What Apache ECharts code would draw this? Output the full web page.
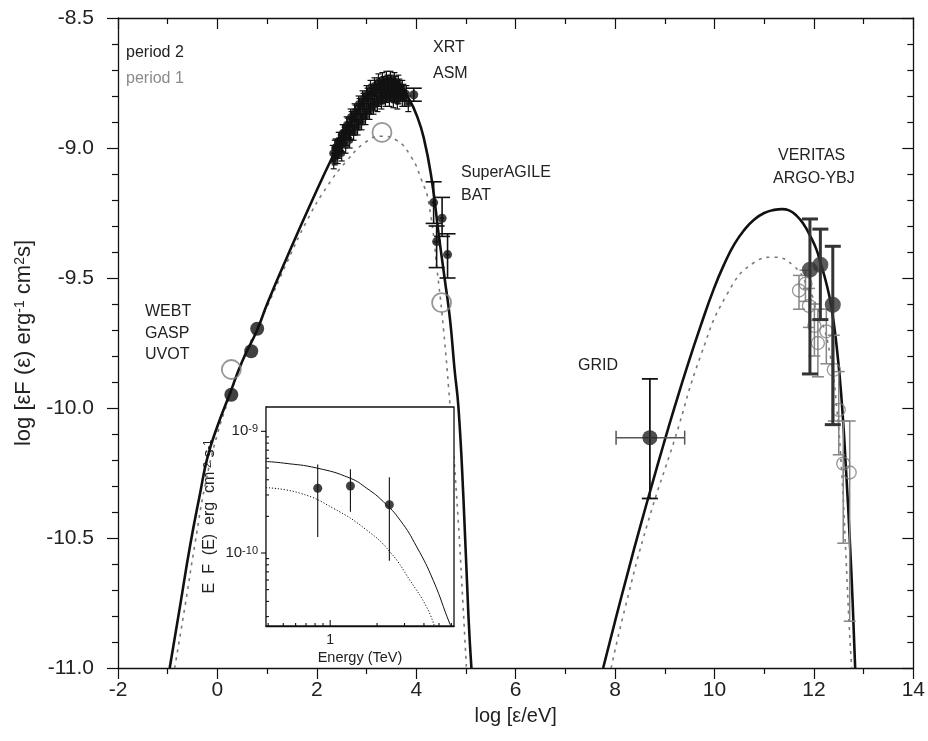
<!DOCTYPE html>
<html>
<head>
<meta charset="utf-8">
<script src="https://cdn.jsdelivr.net/npm/echarts@6/dist/echarts.min.js"></script>
<style>html,body{margin:0;padding:0;background:#fff;}#c{width:928px;height:741px;}</style>
</head>
<body>
<div id="c"></div>
<script>
// ---------- model curves (log eps [eV], log eF) ----------
const syncP2 = [[-0.96,-11.0],[-0.75,-10.76],[-0.55,-10.53],[-0.35,-10.33],[-0.2,-10.19],[0.0,-10.07],[0.24,-9.95],[0.5,-9.82],[0.8,-9.70],[1.0,-9.60],[1.4,-9.42],[1.91,-9.20],[2.35,-9.02],[2.7,-8.89],[3.0,-8.80],[3.25,-8.75],[3.45,-8.735],[3.65,-8.75],[3.85,-8.81],[4.0,-8.87],[4.15,-8.96],[4.31,-9.12],[4.45,-9.33],[4.57,-9.50],[4.68,-9.66],[4.77,-9.85],[4.85,-10.0],[4.95,-10.35],[5.05,-10.8],[5.11,-11.0]];
const syncP1 = [[-0.86,-11.0],[-0.65,-10.76],[-0.45,-10.52],[-0.25,-10.30],[0.0,-10.10],[0.24,-9.96],[0.5,-9.82],[0.8,-9.69],[1.0,-9.61],[1.4,-9.44],[1.8,-9.28],[2.2,-9.15],[2.6,-9.05],[3.0,-8.975],[3.3,-8.955],[3.6,-8.97],[3.9,-9.035],[4.1,-9.12],[4.25,-9.21],[4.45,-9.52],[4.55,-9.70],[4.65,-9.92],[4.75,-10.17],[4.85,-10.45],[4.93,-10.72],[5.01,-11.0]];
const icP2 = [[7.76,-11.0],[8.0,-10.82],[8.26,-10.63],[8.5,-10.46],[8.75,-10.29],[8.96,-10.15],[9.2,-9.995],[9.46,-9.835],[9.72,-9.685],[9.99,-9.54],[10.2,-9.445],[10.4,-9.37],[10.6,-9.315],[10.8,-9.275],[11.0,-9.25],[11.2,-9.238],[11.36,-9.235],[11.5,-9.24],[11.65,-9.26],[11.8,-9.295],[11.93,-9.34],[12.05,-9.39],[12.13,-9.44],[12.25,-9.52],[12.35,-9.61],[12.45,-9.75],[12.55,-9.95],[12.65,-10.25],[12.72,-10.5],[12.78,-10.75],[12.83,-11.0]];
const icP1 = [[7.92,-11.0],[8.2,-10.77],[8.66,-10.44],[9.2,-10.12],[9.72,-9.80],[10.26,-9.56],[10.8,-9.44],[11.2,-9.42],[11.6,-9.455],[11.86,-9.53],[12.13,-9.65],[12.33,-9.80],[12.46,-10.0],[12.56,-10.25],[12.64,-10.55],[12.70,-10.8],[12.76,-11.0]];

// ---------- inset model curves (log E/TeV, log EF) ----------
const insetP2 = [[-0.412,-9.248],[-0.299,-9.261],[-0.085,-9.302],[0.128,-9.385],[0.235,-9.468],[0.342,-9.579],[0.449,-9.730],[0.556,-9.950],[0.662,-10.226],[0.769,-10.584],[0.78,-10.6]];
const insetP1 = [[-0.412,-9.463],[-0.192,-9.509],[0.021,-9.633],[0.235,-9.812],[0.385,-9.992],[0.513,-10.226],[0.62,-10.446],[0.669,-10.6]];

// ---------- data: period 2 ----------
const opticalP2 = [[0.28,-9.949],[0.68,-9.782],[0.80,-9.695]];
// XRT: [x, y, yerr]
const xrtP2 = [
  [2.36,-9.00,0.03],[2.44,-8.97,0.03],[2.52,-8.94,0.03],[2.60,-8.91,0.03],[2.68,-8.88,0.03],[2.76,-8.86,0.03],[2.84,-8.83,0.03],[2.92,-8.81,0.03],[3.00,-8.79,0.03],[3.08,-8.77,0.03],[3.16,-8.76,0.03],[3.24,-8.745,0.03],[3.32,-8.74,0.03],[3.40,-8.735,0.03],[3.48,-8.735,0.03],[3.56,-8.74,0.03],[3.64,-8.75,0.03],[3.72,-8.77,0.03],[3.80,-8.79,0.03],
  [2.38,-8.995,0.03],[2.46,-8.97,0.03],[2.54,-8.94,0.03],[2.62,-8.915,0.03],[2.70,-8.89,0.03],[2.78,-8.865,0.03],[2.86,-8.84,0.03],[2.94,-8.82,0.03],[3.02,-8.80,0.03],[3.10,-8.785,0.03],[3.18,-8.77,0.03],[3.26,-8.76,0.03],[3.34,-8.755,0.03],[3.42,-8.75,0.03],[3.50,-8.75,0.03],[3.58,-8.755,0.03],[3.66,-8.765,0.03],[3.74,-8.785,0.03],
  [2.32,-9.02,0.03],[2.40,-9.00,0.03],[2.48,-8.98,0.03],[2.56,-8.95,0.03],[2.64,-8.93,0.03],[2.72,-8.90,0.03],[2.80,-8.88,0.03],[2.88,-8.86,0.03],[2.96,-8.84,0.03],[3.04,-8.82,0.03],[3.12,-8.80,0.03],[3.20,-8.79,0.03],[3.28,-8.78,0.03],[3.36,-8.775,0.03],[3.44,-8.77,0.03],[3.52,-8.775,0.03],[3.60,-8.78,0.03],[3.68,-8.79,0.03],[3.76,-8.81,0.03],[3.84,-8.83,0.03],
  [2.36,-9.035,0.03],[2.44,-9.01,0.03],[2.52,-8.985,0.03],[2.60,-8.96,0.03],[2.68,-8.94,0.03],[2.76,-8.92,0.03],[2.84,-8.90,0.03],[2.92,-8.88,0.03],[3.00,-8.86,0.03],[3.08,-8.84,0.03],[3.16,-8.825,0.03],[3.24,-8.81,0.03],[3.32,-8.80,0.03],[3.40,-8.795,0.03],[3.48,-8.79,0.03],[3.56,-8.795,0.03],[3.64,-8.80,0.03],[3.72,-8.81,0.03],
  [2.34,-9.05,0.03],[2.42,-9.03,0.03],[2.50,-9.02,0.03],[2.58,-8.99,0.03],[2.66,-8.97,0.03],[2.74,-8.94,0.03],[2.82,-8.92,0.03],[2.90,-8.90,0.03],[2.98,-8.88,0.03],[3.06,-8.86,0.03],[3.14,-8.84,0.03],[3.22,-8.83,0.03],[3.30,-8.82,0.03],[3.38,-8.81,0.03],[3.46,-8.81,0.03],[3.54,-8.815,0.03],[3.62,-8.82,0.03]
];
// [x, y, low, high]
const asmP2 = [[3.95,-8.795,-8.82,-8.77]];
const batP2 = [[4.35,-9.21,-9.29,-9.13],[4.52,-9.27,-9.34,-9.19],[4.41,-9.36,-9.46,-9.30],[4.63,-9.41,-9.50,-9.33]];
// GRID: [x, y, low, high, xlow, xhigh]
const gridP2 = [[8.70,-10.114,-10.348,-9.888,8.02,9.40]];
const veritasP2 = [[11.92,-9.468,-9.869,-9.273],[12.13,-9.449,-9.66,-9.312],[12.38,-9.603,-10.064,-9.378]];

// ---------- data: period 1 ----------
const opticalP1 = [[0.28,-9.852]];
const xrayP1 = [[3.31,-8.94],[4.51,-9.595]];
const tevP1 = [[11.83,-9.522,-9.59,-9.47],[11.70,-9.548,-9.62,-9.49],[11.90,-9.607,-9.69,-9.54],[12.01,-9.684,-9.80,-9.60],[12.08,-9.750,-9.88,-9.62],[12.25,-9.705,-9.83,-9.62],[12.40,-9.853,-10.05,-9.72],[12.50,-10.007,-10.18,-9.86],[12.59,-10.214,-10.52,-10.05],[12.72,-10.248,-10.82,-10.05]];

// ---------- tick labels ----------
const xTicks = [-2,0,2,4,6,8,10,12,14];
const yTicks = [-11.0,-10.5,-10.0,-9.5,-9.0,-8.5];
const insetYLabels = [-10,-9];
const insetXLabels = [0];
const insetXRange = [-0.412, 0.795];
const insetYRange = [-10.6, -8.8];

// ---------- build ----------
const FONT = 'Liberation Sans';
const chart = echarts.init(document.getElementById('c'), null, {renderer:'canvas'});

function errBars(o){
  return function(params, api){
    const x = api.value(0), y = api.value(1), lo = api.value(2), hi = api.value(3);
    const st = {stroke:o.color, lineWidth:o.width};
    const a = api.coord([x, lo]), b = api.coord([x, hi]);
    const c = [{type:'line', shape:{x1:a[0],y1:a[1],x2:b[0],y2:b[1]}, style:st}];
    if (o.cap) {
      c.push({type:'line', shape:{x1:a[0]-o.cap,y1:a[1],x2:a[0]+o.cap,y2:a[1]}, style:st});
      c.push({type:'line', shape:{x1:b[0]-o.cap,y1:b[1],x2:b[0]+o.cap,y2:b[1]}, style:st});
    }
    if (o.xerr) {
      const l = api.coord([api.value(4), y]), r = api.coord([api.value(5), y]);
      const hs = {stroke:o.xcolor||o.color, lineWidth:o.xwidth||o.width};
      c.push({type:'line', shape:{x1:l[0],y1:l[1],x2:r[0],y2:r[1]}, style:hs});
      c.push({type:'line', shape:{x1:l[0],y1:l[1]-o.xcap,x2:l[0],y2:l[1]+o.xcap}, style:hs});
      c.push({type:'line', shape:{x1:r[0],y1:r[1]-o.xcap,x2:r[0],y2:r[1]+o.xcap}, style:hs});
    }
    if (o.xhalf) {
      const l = api.coord([x - o.xhalf, y]), r = api.coord([x + o.xhalf, y]);
      c.push({type:'line', shape:{x1:l[0],y1:l[1],x2:r[0],y2:r[1]}, style:st});
    }
    return {type:'group', children:c};
  };
}
// inset tick marks drawn at the axis scale positions: item = [x, y, dx, dy]
function tickRender(params, api){
  const p = api.coord([api.value(0), api.value(1)]);
  return {type:'line', shape:{x1:p[0], y1:p[1], x2:p[0]+api.value(2), y2:p[1]+api.value(3)}, style:{stroke:'#111', lineWidth:1.1}};
}

const xrtBars = xrtP2.map(d => [d[0], d[1], d[1]-d[2], d[1]+d[2]]);
const insetVer = veritasP2.map(d => [d[0]-12, d[1], d[2], d[3]]);
const insetTicks = [];
[0.4,0.5,0.6,0.7,0.8,0.9,2,3,4,5,6].forEach(v => insetTicks.push([Math.log10(v), insetYRange[0], 0, -3]));
insetXLabels.forEach(v => insetTicks.push([v, insetYRange[0], 0, -6]));
[-11,-10].forEach(n => { for (let k=2;k<=9;k++){ const v = n+Math.log10(k); if (v>insetYRange[0] && v<insetYRange[1]) insetTicks.push([insetXRange[0], v, 3, 0]);} });
insetYLabels.forEach(v => insetTicks.push([insetXRange[0], v, -5, 0]));

const blk = '#111', gry = '#7a7a7a';
const supRich = {sup:{fontSize:14, verticalAlign:'top', lineHeight:14, fontFamily:FONT, color:'#222'}, n:{fontSize:22, fontFamily:FONT, color:'#222'}};

const option = {
  animation:false,
  backgroundColor:'#fff',
  textStyle:{fontFamily:FONT},
  grid:[
    {left:118, top:18, width:799, height:650, show:false},
    {left:266, top:407, width:188, height:219, show:true, borderColor:'#111', borderWidth:1.3, backgroundColor:'#fff', z:3}
  ],
  xAxis:[
    {gridIndex:0, type:'value', min:xTicks[0], max:xTicks[xTicks.length-1], interval:2, position:'bottom',
     axisLine:{onZero:false, lineStyle:{color:'#111', width:1.3}},
     axisTick:{inside:false, length:11, lineStyle:{color:'#111', width:1.2}},
     minorTick:{show:true, splitNumber:2, length:6, lineStyle:{color:'#111', width:1.2}},
     axisLabel:{fontSize:21, color:'#222', margin:12, formatter:v=>String(v)},
     splitLine:{show:false},
     name:'log [ε/eV]', nameLocation:'middle', nameGap:38, nameTextStyle:{fontSize:20, color:'#222'}},
    {gridIndex:0, type:'value', min:-2, max:14, interval:2, position:'top',
     axisLine:{onZero:false, lineStyle:{color:'#111', width:1.3}},
     axisTick:{inside:true, length:11, lineStyle:{color:'#111', width:1.2}},
     minorTick:{show:true, splitNumber:2, length:6, lineStyle:{color:'#111', width:1.2}},
     axisLabel:{show:false}, splitLine:{show:false}},
    {gridIndex:1, type:'value', min:insetXRange[0], max:insetXRange[1], position:'bottom',
     axisLine:{onZero:false, lineStyle:{color:'#111', width:1.3}},
     axisTick:{show:false},
     axisLabel:{customValues:insetXLabels, formatter:v=>String(Math.round(Math.pow(10,v))), fontSize:14, color:'#222', margin:7},
     splitLine:{show:false},
     name:'Energy (TeV)', nameLocation:'middle', nameGap:24, nameTextStyle:{fontSize:14.5, color:'#222'}}
  ],
  yAxis:[
    {gridIndex:0, type:'value', min:yTicks[0], max:yTicks[yTicks.length-1], interval:0.5, position:'left',
     axisLine:{onZero:false, lineStyle:{color:'#111', width:1.3}},
     axisTick:{inside:false, length:11, lineStyle:{color:'#111', width:1.2}},
     minorTick:{show:true, splitNumber:5, length:6, lineStyle:{color:'#111', width:1.2}},
     axisLabel:{fontSize:21, color:'#222', margin:24, formatter:v=>v.toFixed(1)},
     splitLine:{show:false},
     name:'{n|log [εF (ε) erg}{sup|-1}{n| cm}{sup|2}{n|s]}', nameLocation:'middle', nameGap:72, nameRotate:90,
     nameTextStyle:{fontSize:22, color:'#222', rich:supRich}},
    {gridIndex:0, type:'value', min:-11, max:-8.5, interval:0.5, position:'right',
     axisLine:{onZero:false, lineStyle:{color:'#111', width:1.3}},
     axisTick:{inside:true, length:11, lineStyle:{color:'#111', width:1.2}},
     minorTick:{show:true, splitNumber:5, length:6, lineStyle:{color:'#111', width:1.2}},
     axisLabel:{show:false}, splitLine:{show:false}},
    {gridIndex:1, type:'value', min:insetYRange[0], max:insetYRange[1], position:'left',
     axisLine:{onZero:false, lineStyle:{color:'#111', width:1.3}},
     axisTick:{show:false},
     axisLabel:{customValues:insetYLabels, margin:8, formatter:v=>'{b|10}{s|'+Math.round(v)+'}',
       rich:{b:{fontSize:15, color:'#222', fontFamily:FONT}, s:{fontSize:11, color:'#222', verticalAlign:'top', lineHeight:11, fontFamily:FONT}}},
     splitLine:{show:false},
     name:'{n|E  F  (E)  erg  cm}{sup|-2}{n| s}{sup|-1}', nameLocation:'middle', nameGap:48, nameRotate:90,
     nameTextStyle:{rich:{n:{fontSize:16, color:'#222', fontFamily:FONT}, sup:{fontSize:11, color:'#222', verticalAlign:'top', lineHeight:11, fontFamily:FONT}}}}
  ],
  graphic:[
    {type:'text', left:126, top:45, style:{text:'period 2', font:'16px "Liberation Sans"', fill:'#222'}},
    {type:'text', left:126, top:71, style:{text:'period 1', font:'16px "Liberation Sans"', fill:'#8a8a8a'}},
    {type:'text', left:433, top:40, style:{text:'XRT', font:'16px "Liberation Sans"', fill:'#222'}},
    {type:'text', left:433, top:66, style:{text:'ASM', font:'16px "Liberation Sans"', fill:'#222'}},
    {type:'text', left:461, top:165, style:{text:'SuperAGILE', font:'16px "Liberation Sans"', fill:'#222'}},
    {type:'text', left:461, top:188, style:{text:'BAT', font:'16px "Liberation Sans"', fill:'#222'}},
    {type:'text', left:778, top:148, style:{text:'VERITAS', font:'16px "Liberation Sans"', fill:'#222'}},
    {type:'text', left:773, top:171, style:{text:'ARGO-YBJ', font:'16px "Liberation Sans"', fill:'#222'}},
    {type:'text', left:145, top:304, style:{text:'WEBT', font:'16px "Liberation Sans"', fill:'#222'}},
    {type:'text', left:145, top:326, style:{text:'GASP', font:'16px "Liberation Sans"', fill:'#222'}},
    {type:'text', left:145, top:347, style:{text:'UVOT', font:'16px "Liberation Sans"', fill:'#222'}},
    {type:'text', left:578, top:358, style:{text:'GRID', font:'16px "Liberation Sans"', fill:'#222'}}
  ],
  series:[
    // model curves
    {type:'line', xAxisIndex:0, yAxisIndex:0, data:syncP1, smooth:true, showSymbol:false, lineStyle:{color:gry, width:1.6, type:[3,5]}, z:2},
    {type:'line', xAxisIndex:0, yAxisIndex:0, data:icP1, smooth:true, showSymbol:false, lineStyle:{color:gry, width:1.6, type:[3,5]}, z:2},
    {type:'line', xAxisIndex:0, yAxisIndex:0, data:syncP2, smooth:true, showSymbol:false, lineStyle:{color:blk, width:2.6}, z:3},
    {type:'line', xAxisIndex:0, yAxisIndex:0, data:icP2, smooth:true, showSymbol:false, lineStyle:{color:blk, width:2.6}, z:3},
    // period 1 error bars & points
    {type:'custom', xAxisIndex:0, yAxisIndex:0, data:tevP1, encode:{x:0,y:1}, renderItem:errBars({color:'#858585', width:1.5, cap:6}), z:4},
    {type:'scatter', xAxisIndex:0, yAxisIndex:0, data:tevP1.map(d=>[d[0],d[1]]), symbol:'circle', symbolSize:13, itemStyle:{color:'rgba(255,255,255,0)', borderColor:'#7d7d7d', borderWidth:1.3}, z:5},
    {type:'scatter', xAxisIndex:0, yAxisIndex:0, data:opticalP1, symbol:'circle', symbolSize:19, itemStyle:{color:'rgba(255,255,255,0)', borderColor:'#7d7d7d', borderWidth:1.8}, z:5},
    {type:'scatter', xAxisIndex:0, yAxisIndex:0, data:xrayP1, symbol:'circle', symbolSize:19, itemStyle:{color:'rgba(255,255,255,0)', borderColor:'#7d7d7d', borderWidth:1.8}, z:5},
    // period 2 error bars
    {type:'custom', xAxisIndex:0, yAxisIndex:0, data:xrtBars, encode:{x:0,y:1}, renderItem:errBars({color:'#111', width:1.2, cap:3, xhalf:0.04}), z:6},
    {type:'custom', xAxisIndex:0, yAxisIndex:0, data:asmP2, encode:{x:0,y:1}, renderItem:errBars({color:'#111', width:1.6, cap:8}), z:6},
    {type:'custom', xAxisIndex:0, yAxisIndex:0, data:batP2, encode:{x:0,y:1}, renderItem:errBars({color:'#111', width:1.6, cap:8, xhalf:0.04}), z:6},
    {type:'custom', xAxisIndex:0, yAxisIndex:0, data:gridP2, encode:{x:0,y:1}, renderItem:errBars({color:'#111', width:1.8, cap:8, xerr:true, xcolor:'#555', xwidth:1.5, xcap:7}), z:6},
    {type:'custom', xAxisIndex:0, yAxisIndex:0, data:veritasP2, encode:{x:0,y:1}, renderItem:errBars({color:'#333', width:3, cap:8}), z:6},
    // period 2 points
    {type:'scatter', xAxisIndex:0, yAxisIndex:0, data:xrtP2.map(d=>[d[0],d[1]]), symbol:'circle', symbolSize:7, itemStyle:{color:'#111'}, z:7},
    {type:'scatter', xAxisIndex:0, yAxisIndex:0, data:asmP2.map(d=>[d[0],d[1]]), symbol:'circle', symbolSize:9, itemStyle:{color:'#111'}, z:7},
    {type:'scatter', xAxisIndex:0, yAxisIndex:0, data:batP2.map(d=>[d[0],d[1]]), symbol:'circle', symbolSize:9, itemStyle:{color:'#111'}, z:7},
    {type:'scatter', xAxisIndex:0, yAxisIndex:0, data:opticalP2, symbol:'circle', symbolSize:14, itemStyle:{color:'#111'}, z:7},
    {type:'scatter', xAxisIndex:0, yAxisIndex:0, data:gridP2.map(d=>[d[0],d[1]]), symbol:'circle', symbolSize:15, itemStyle:{color:'#222'}, z:7},
    {type:'scatter', xAxisIndex:0, yAxisIndex:0, data:veritasP2.map(d=>[d[0],d[1]]), symbol:'circle', symbolSize:16, itemStyle:{color:'#333'}, z:7},
    // inset
    {type:'custom', xAxisIndex:2, yAxisIndex:2, data:insetTicks, encode:{x:0,y:1}, renderItem:tickRender, clip:false, z:8},
    {type:'line', xAxisIndex:2, yAxisIndex:2, data:insetP2, smooth:true, showSymbol:false, lineStyle:{color:'#111', width:1}, z:8},
    {type:'line', xAxisIndex:2, yAxisIndex:2, data:insetP1, smooth:true, showSymbol:false, lineStyle:{color:'#111', width:1, type:[1.2,1.8]}, z:8},
    {type:'custom', xAxisIndex:2, yAxisIndex:2, data:insetVer, encode:{x:0,y:1}, renderItem:errBars({color:'#111', width:1.1, cap:0}), z:8},
    {type:'scatter', xAxisIndex:2, yAxisIndex:2, data:insetVer.map(d=>[d[0],d[1]]), symbol:'circle', symbolSize:9, itemStyle:{color:'#111'}, z:9}
  ]
};
chart.setOption(option);
</script>
</body>
</html>
